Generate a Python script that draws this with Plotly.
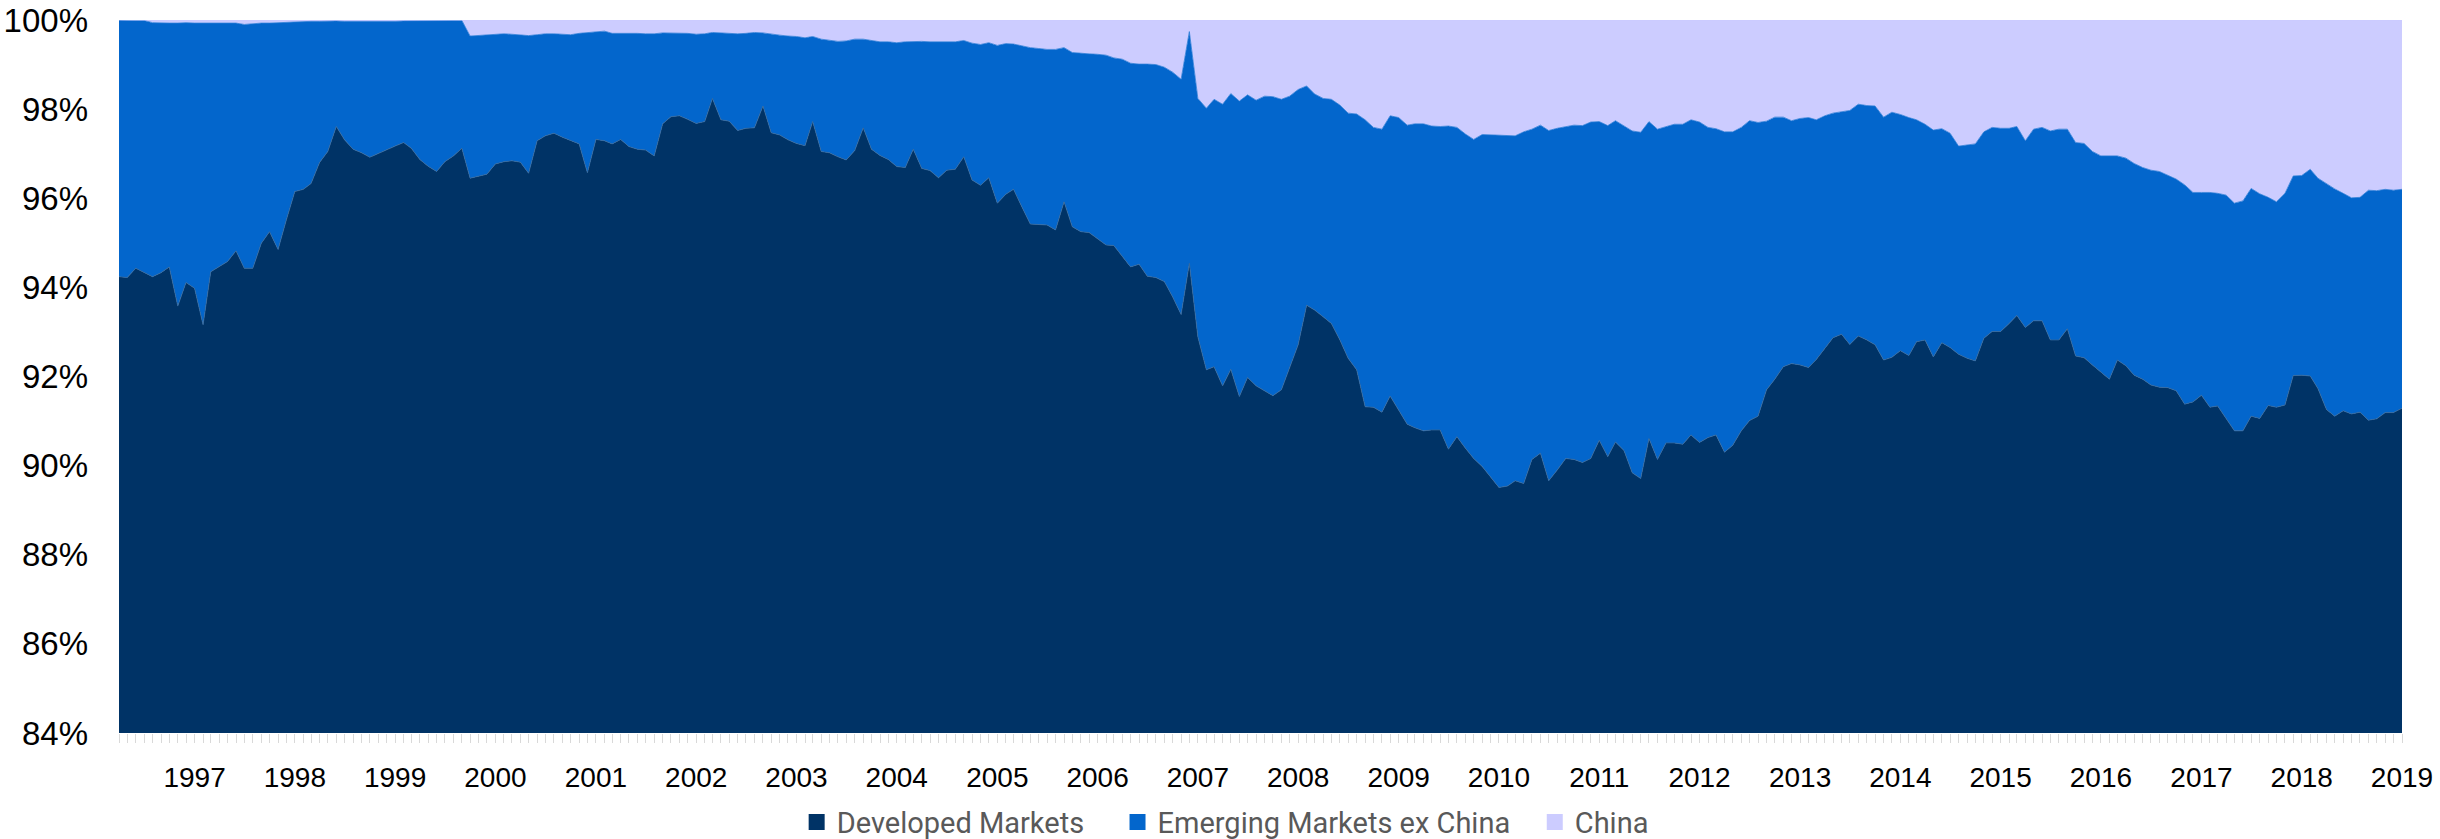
import pandas as pd
import plotly.graph_objects as go

# Monthly shares (%), Apr 1996 .. Jan 2019
developed = [
    94.24, 94.22, 94.43, 94.33, 94.24, 94.33, 94.46, 93.58, 94.11, 93.98,
    93.16, 94.35, 94.46, 94.58, 94.82, 94.43, 94.43, 94.99, 95.25, 94.85,
    95.51, 96.15, 96.20, 96.33, 96.80, 97.05, 97.61, 97.31, 97.10, 97.02,
    96.92, 97.01, 97.08, 97.17, 97.25, 97.12, 96.87, 96.72, 96.60, 96.82,
    96.95, 97.12, 96.45, 96.50, 96.54, 96.77, 96.82, 96.84, 96.81, 96.56,
    97.29, 97.40, 97.46, 97.37, 97.29, 97.22,
    96.57, 97.32, 97.29, 97.22, 97.32, 97.16, 97.10, 97.08, 96.95, 97.67,
    97.83, 97.85, 97.77, 97.68, 97.72, 98.24, 97.76, 97.73, 97.52, 97.57,
    97.58, 98.07, 97.47, 97.42, 97.31, 97.23, 97.18, 97.72, 97.05, 97.02,
    96.93, 96.86, 97.07, 97.58, 97.10, 96.96, 96.87, 96.71, 96.69, 97.10,
    96.67, 96.62, 96.46, 96.63, 96.65, 96.93, 96.41, 96.29, 96.46, 95.89,
    96.09, 96.20, 95.80, 95.42, 95.41, 95.40,
    95.29, 95.92, 95.36, 95.25, 95.23, 95.10, 94.95, 94.94,
    94.70, 94.46, 94.52, 94.25, 94.22, 94.13, 93.79, 93.39, 94.54, 92.89,
    92.15, 92.22, 91.79, 92.16, 91.55, 91.98, 91.79, 91.68, 91.57, 91.70,
    92.18, 92.71, 93.60, 93.49, 93.34, 93.19, 92.82, 92.41, 92.15, 91.32,
    91.31, 91.20, 91.56, 91.25, 90.93, 90.85, 90.78, 90.80, 90.80, 90.37,
    90.65, 90.39, 90.16, 89.98, 89.75, 89.51, 89.54,
    89.66, 89.60, 90.14,
    90.28, 89.66, 89.90, 90.16, 90.14, 90.07, 90.16, 90.57, 90.20, 90.53,
    90.34, 89.84, 89.71, 90.61, 90.14, 90.51, 90.51, 90.48, 90.69, 90.52,
    90.63, 90.69, 90.30, 90.46, 90.78, 91.01, 91.11, 91.70, 91.94, 92.22,
    92.29, 92.26, 92.20, 92.38, 92.63, 92.87, 92.95, 92.72, 92.91, 92.82,
    92.71, 92.37, 92.43, 92.58, 92.47, 92.78, 92.82, 92.44, 92.76, 92.65,
    92.50, 92.41, 92.35, 92.86, 93.01, 93.01, 93.19, 93.37, 93.10, 93.25,
    93.25, 92.82, 92.82, 93.07, 92.46, 92.42, 92.26, 92.11, 91.94, 92.37,
    92.24, 92.03, 91.94, 91.81, 91.76, 91.75, 91.68, 91.38, 91.43, 91.58,
    91.31, 91.34, 91.06, 90.78, 90.78, 91.11, 91.06, 91.35, 91.31, 91.36,
    92.02, 92.03, 92.01, 91.73, 91.26, 91.11, 91.23, 91.16, 91.20, 91.02,
    91.05, 91.19, 91.19, 91.29,
]

emerging_ex_china = [
    5.76, 5.78, 5.57, 5.66, 5.70, 5.60, 5.47, 6.35, 5.83, 5.95,
    6.77, 5.58, 5.46, 5.34, 5.11, 5.47, 5.49, 4.94, 4.68, 5.09,
    4.44, 3.81, 3.76, 3.64, 3.17, 2.93, 2.37, 2.66, 2.87, 2.95,
    3.04, 2.95, 2.89, 2.80, 2.73, 2.86, 3.11, 3.26, 3.38, 3.17,
    3.04, 2.87, 3.19, 3.15, 3.12, 2.90, 2.87, 2.84, 2.85, 3.09,
    2.38, 2.29, 2.23, 2.31, 2.38, 2.48,
    3.15, 2.41, 2.46, 2.48, 2.38, 2.55, 2.60, 2.61, 2.74, 2.04,
    1.88, 1.85, 1.93, 2.00, 1.97, 1.48, 1.95, 1.97, 2.17, 2.13,
    2.14, 1.64, 2.21, 2.24, 2.33, 2.40, 2.42, 1.91, 2.52, 2.52,
    2.59, 2.67, 2.50, 1.99, 2.44, 2.55, 2.64, 2.78, 2.82, 2.42,
    2.85, 2.89, 3.05, 2.88, 2.86, 2.61, 3.07, 3.16, 3.03, 3.54,
    3.38, 3.26, 3.62, 3.96, 3.95, 3.94,
    4.05, 3.46, 3.91, 4.00, 4.01, 4.13, 4.26, 4.21,
    4.42, 4.57, 4.49, 4.76, 4.78, 4.81, 5.04, 5.28, 5.20, 5.35,
    5.87, 6.00, 6.32, 6.19, 6.63, 6.34, 6.41, 6.61, 6.71, 6.52,
    6.11, 5.73, 4.92, 4.85, 4.90, 5.03, 5.27, 5.50, 5.74, 6.44,
    6.28, 6.35, 6.29, 6.56, 6.71, 6.82, 6.89, 6.82, 6.81, 7.25,
    6.94, 7.05, 7.16, 7.45, 7.67, 7.91, 7.87,
    7.74, 7.89, 7.41,
    7.36, 7.86, 7.67, 7.45, 7.50, 7.56, 7.55, 7.15, 7.43, 7.21,
    7.28, 7.67, 7.77, 7.11, 7.41, 7.10, 7.15, 7.18, 7.07, 7.19,
    6.96, 6.87, 7.19, 7.03, 6.81, 6.73, 6.59, 6.03, 5.88, 5.60,
    5.45, 5.53, 5.61, 5.38, 5.22, 5.04, 4.99, 5.25, 5.20, 5.26,
    5.36, 5.45, 5.50, 5.30, 5.34, 4.98, 4.84, 5.09, 4.80, 4.81,
    4.67, 4.78, 4.87, 4.63, 4.58, 4.56, 4.38, 4.24, 4.19, 4.30,
    4.34, 4.69, 4.73, 4.48, 4.79, 4.81, 4.79, 4.84, 5.01, 4.58,
    4.66, 4.75, 4.75, 4.82, 4.84, 4.76, 4.75, 4.92, 4.70, 4.55,
    4.82, 4.77, 5.01, 5.11, 5.16, 5.11, 5.04, 4.67, 4.61, 4.75,
    4.48, 4.48, 4.64, 4.72, 5.06, 5.10, 4.88, 4.85, 4.82, 5.16,
    5.12, 5.01, 4.99, 4.91,
]

china = [
    0.00, 0.00, 0.00, 0.01, 0.06, 0.07, 0.07, 0.07, 0.06, 0.07,
    0.07, 0.07, 0.08, 0.08, 0.07, 0.10, 0.08, 0.07, 0.07, 0.06,
    0.05, 0.04, 0.04, 0.03, 0.03, 0.02, 0.02, 0.03, 0.03, 0.03,
    0.04, 0.04, 0.03, 0.03, 0.02, 0.02, 0.02, 0.02, 0.02, 0.01,
    0.01, 0.01, 0.36, 0.35, 0.34, 0.33, 0.31, 0.32, 0.34, 0.35,
    0.33, 0.31, 0.31, 0.32, 0.33, 0.30,
    0.28, 0.27, 0.25, 0.30, 0.30, 0.29, 0.30, 0.31, 0.31, 0.29,
    0.29, 0.30, 0.30, 0.32, 0.31, 0.28, 0.29, 0.30, 0.31, 0.30,
    0.28, 0.29, 0.32, 0.34, 0.36, 0.37, 0.40, 0.37, 0.43, 0.46,
    0.48, 0.47, 0.43, 0.43, 0.46, 0.49, 0.49, 0.51, 0.49, 0.48,
    0.48, 0.49, 0.49, 0.49, 0.49, 0.46, 0.52, 0.55, 0.51, 0.57,
    0.53, 0.54, 0.58, 0.62, 0.64, 0.66,
    0.66, 0.62, 0.73, 0.75, 0.76, 0.77, 0.79, 0.85,
    0.88, 0.97, 0.99, 0.99, 1.00, 1.06, 1.17, 1.33, 0.26, 1.76,
    1.98, 1.78, 1.89, 1.65, 1.82, 1.68, 1.80, 1.71, 1.72, 1.78,
    1.71, 1.56, 1.48, 1.66, 1.76, 1.78, 1.91, 2.09, 2.11, 2.24,
    2.41, 2.45, 2.15, 2.19, 2.36, 2.33, 2.33, 2.38, 2.39, 2.38,
    2.41, 2.56, 2.68, 2.57, 2.58, 2.58, 2.59,
    2.60, 2.51, 2.45,
    2.36, 2.48, 2.43, 2.39, 2.36, 2.37, 2.29, 2.28, 2.37, 2.26,
    2.38, 2.49, 2.52, 2.28, 2.45, 2.39, 2.34, 2.34, 2.24, 2.29,
    2.41, 2.44, 2.51, 2.51, 2.41, 2.26, 2.30, 2.27, 2.18, 2.18,
    2.26, 2.21, 2.19, 2.24, 2.15, 2.09, 2.06, 2.03, 1.89, 1.92,
    1.93, 2.18, 2.07, 2.12, 2.19, 2.24, 2.34, 2.47, 2.44, 2.54,
    2.83, 2.81, 2.78, 2.51, 2.41, 2.43, 2.43, 2.39, 2.71, 2.45,
    2.41, 2.49, 2.45, 2.45, 2.75, 2.77, 2.95, 3.05, 3.05, 3.05,
    3.10, 3.22, 3.31, 3.37, 3.40, 3.49, 3.57, 3.70, 3.87, 3.87,
    3.87, 3.89, 3.93, 4.11, 4.06, 3.78, 3.90, 3.98, 4.08, 3.89,
    3.50, 3.49, 3.35, 3.55, 3.68, 3.79, 3.89, 3.99, 3.98, 3.82,
    3.83, 3.80, 3.82, 3.80,
]

assert len(developed) == len(emerging_ex_china) == len(china)

months = pd.date_range("1996-04-01", periods=len(developed), freq="MS")
year_ticks = [f"{y}-01-01" for y in range(1997, 2020)]
year_labels = [str(y) for y in range(1997, 2020)]
y_ticks = list(range(84, 101, 2))
y_labels = [f"{v}%" for v in y_ticks]

series = [
    ("Developed Markets", developed, "#003366", "#336699"),
    ("Emerging Markets ex China", emerging_ex_china, "#0366CC", "#2A7BD6"),
    ("China", china, "#CCCCFF", "#CCCCFF"),
]
legend_ids = ["legend", "legend2", "legend3"]
legend_x = [0.3265, 0.458, 0.629]

fig = go.Figure()
for name, vals, col, lcol in series:
    fig.add_trace(go.Scatter(
        x=months, y=vals, name=name, stackgroup="one", mode="lines",
        line=dict(color=lcol, width=0.8), fillcolor=col, showlegend=False,
    ))
for (name, vals, col, lcol), lid in zip(series, legend_ids):
    fig.add_trace(go.Scatter(
        x=[None], y=[None], name=name, mode="markers", legend=lid,
        marker=dict(symbol="square", size=16, color=col), showlegend=True,
    ))

legend_style = dict(orientation="h", xref="container", xanchor="left",
                    yref="container", y=0.02, yanchor="middle",
                    font=dict(family="Roboto", size=29, color="#595959"),
                    itemwidth=30, bgcolor="rgba(0,0,0,0)", borderwidth=0)

fig.update_layout(
    width=2440, height=839,
    margin=dict(l=119, r=38, t=20, b=106, autoexpand=False),
    paper_bgcolor="white", plot_bgcolor="white",
    showlegend=True,
    legend=dict(x=legend_x[0], **legend_style),
    legend2=dict(x=legend_x[1], **legend_style),
    legend3=dict(x=legend_x[2], **legend_style),
    font=dict(family="Arial, Liberation Sans, sans-serif", color="black"),
)
fig.update_xaxes(
    range=[months[0], months[-1]],
    tickmode="array", tickvals=year_ticks, ticktext=year_labels,
    tickfont=dict(size=28, color="black"),
    ticks="outside", ticklen=9, tickcolor="#D9D9D9", tickwidth=1,
    minor=dict(tickmode="array", tickvals=list(months), ticks="outside", ticklen=9,
               tickcolor="#D9D9D9", tickwidth=1, showgrid=False),
    showgrid=False, showline=False, zeroline=False,
    ticklabelstandoff=10, automargin=False,
)
fig.update_yaxes(
    range=[84, 100], tickmode="array", tickvals=y_ticks, ticktext=y_labels,
    tickfont=dict(size=33, color="black"),
    showgrid=False, showline=False, zeroline=False, ticks="",
    ticklabelstandoff=30, automargin=False,
)

fig.write_html("out.html", config={"displayModeBar": False},
               post_script="document.body.style.margin='0';document.body.style.padding='0';")
